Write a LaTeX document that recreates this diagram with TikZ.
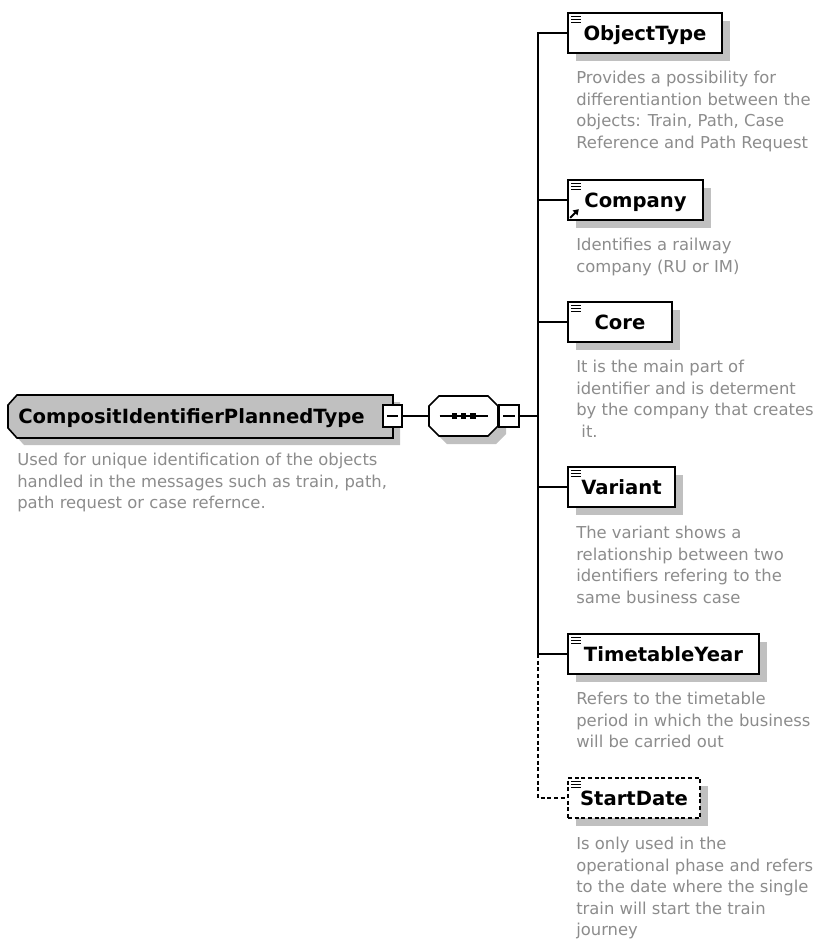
\documentclass[tikz,border=0pt]{standalone}
\usepackage{fontspec}
\setmainfont{DejaVu Sans}
\usetikzlibrary{shadows,arrows.meta}
\definecolor{boxgray}{RGB}{192,192,192}
\definecolor{descgray}{RGB}{140,140,140}
\newcommand{\descfont}{\fontsize{12.3}{16.1}\selectfont}
\newcommand{\namefont}{\fontsize{14.7}{17}\selectfont\bfseries}
\tikzset{
  elem/.style={draw, line width=1.2pt, fill=white, minimum height=30pt, inner sep=0pt,
    text height=10.7pt, text depth=0pt, font=\namefont,
    general shadow={fill=boxgray, shadow xshift=6pt, shadow yshift=-6pt}},
  optelem/.style={elem, dash pattern=on 3pt off 2pt},
  desc/.style={anchor=north west, align=left, inner sep=0pt, text=descgray, font=\descfont},
  minusbox/.style={draw, line width=1pt, fill=white, minimum width=14.25pt, minimum height=16.5pt, inner sep=0pt,
    path picture={\draw[line width=0.8pt] ([xshift=3pt]path picture bounding box.west) -- ([xshift=-3pt]path picture bounding box.east);}},
  link/.style={line width=1pt},
}
\begin{document}
\begin{tikzpicture}[x=0.75pt,y=-0.75pt]
\useasboundingbox (0,0) rectangle (819,943);

% complex type
\node[minimum width=288.75pt, minimum height=32.25pt, inner sep=0pt, outer sep=0pt] (root) at (200.5,416.5) {};
\draw[line width=1.2pt, fill=boxgray, general shadow={fill=boxgray, shadow xshift=5.25pt, shadow yshift=-5.25pt}]
  ([yshift=-7.5pt]root.north west) -- ([xshift=6.75pt]root.north west) -- (root.north east)
  -- (root.south east) -- ([xshift=6.75pt]root.south west) -- ([yshift=7.5pt]root.south west) -- cycle;
\node[anchor=base west, font=\namefont, inner sep=0pt] (rootLbl) at (18,423.5) {CompositIdentifierPlannedType};
\node[minusbox] (rootMinus) at (392.5,416) {};
\node[desc] (rootDesc) at (17,453) {Used for unique identification of the objects\\handled in the messages such as train, path,\\path request or case refernce.};

% sequence
\node[minimum width=51.75pt, minimum height=30pt, inner sep=0pt, outer sep=0pt] (seq) at (463.5,416) {};
\draw[line width=1.2pt, fill=white, general shadow={fill=boxgray, shadow xshift=6pt, shadow yshift=-6pt}]
  ([xshift=7.5pt]seq.north west) -- ([xshift=-7.5pt]seq.north east) -- ([yshift=-7.5pt]seq.north east)
  -- ([yshift=7.5pt]seq.south east) -- ([xshift=-7.5pt]seq.south east) -- ([xshift=7.5pt]seq.south west)
  -- ([yshift=7.5pt]seq.south west) -- ([yshift=-7.5pt]seq.north west) -- cycle;
\draw[line width=1pt] ([xshift=-18pt]seq.center) -- ([xshift=18pt]seq.center);
\foreach \dx in {-7.1,0,7.1}
  \fill ([xshift=\dx pt]seq.center) +(-1.9pt,-1.9pt) rectangle +(1.9pt,1.9pt);
\node[minusbox, minimum width=15pt] (seqMinus) at (509,416) {};

% elements
\node[elem, minimum width=115.5pt] (objType) at (645,33) {ObjectType};
\node[elem, minimum width=101.25pt] (company) at (635.5,200) {Company};
\node[elem, minimum width=78pt] (core) at (620,322) {Core};
\node[elem, minimum width=80.25pt] (variant) at (621.5,487) {Variant};
\node[elem, minimum width=143.25pt] (ttYear) at (663.5,654) {TimetableYear};
\node[optelem, minimum width=99pt] (startDate) at (634,798) {StartDate};

\foreach \n in {objType,company,core,variant,ttYear,startDate}
  \foreach \dy in {3,5.5,8}
    \draw[line width=0.75pt] ([xshift=3pt,yshift=-\dy pt]\n.north west) -- ++(7.5pt,0pt);
\draw[-{Triangle[length=4pt,width=5pt]}, line width=1.5pt] ([xshift=2.2pt,yshift=2.2pt]company.south west) -- ++(6.5pt,6.5pt);

% connectors
\draw[link] (rootMinus.east) -- (seq.west);
\coordinate (bus) at (538,416);
\coordinate (busEnd) at (538,654);
\draw[link] (seqMinus.east) -- (bus);
\draw[link] (bus) |- (objType.west);
\draw[link] (bus) |- (company.west);
\draw[link] (bus) |- (core.west);
\draw[link] (bus) |- (variant.west);
\draw[link] (bus) |- (ttYear.west);
\draw[link, dash pattern=on 3pt off 2pt] (busEnd) |- (startDate.west);

% annotations
\node[desc] (objTypeDesc) at (576,71) {Provides a possibility for\\differentiantion between the\\objects: Train, Path, Case\\Reference and Path Request};
\node[desc] (companyDesc) at (576,238) {Identifies a railway\\company (RU or IM)};
\node[desc] (coreDesc) at (576,360) {It is the main part of\\identifier and is determent\\by the company that creates\\\ it.};
\node[desc] (variantDesc) at (576,526) {The variant shows a\\relationship between two\\identifiers refering to the\\same business case};
\node[desc] (ttYearDesc) at (576,692) {Refers to the timetable\\period in which the business\\will be carried out};
\node[desc] (startDateDesc) at (576,837) {Is only used in the\\operational phase and refers\\to the date where the single\\train will start the train\\journey};

\end{tikzpicture}
\end{document}
